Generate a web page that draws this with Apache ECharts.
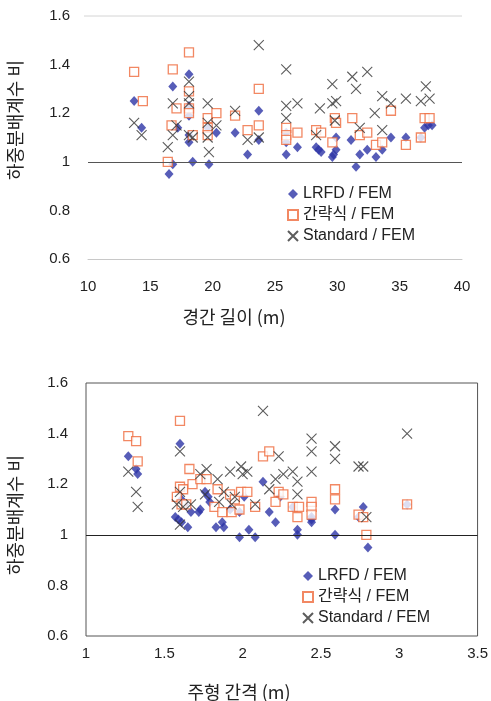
<!DOCTYPE html>
<html>
<head>
<meta charset="utf-8">
<script src="https://cdn.jsdelivr.net/npm/echarts@6/dist/echarts.min.js"></script>
<style>
  html, body { margin: 0; padding: 0; background: #fff; }
  #chart { width: 491px; height: 701px; }
</style>
</head>
<body>
<div id="chart"></div>
<script>
// Span length (m) vs. distribution factor ratio
const spanLrfd = [[13.7,1.25],[14.3,1.14],[16.8,1.31],[16.5,0.95],[16.8,0.99],[17.2,1.14],[18.1,1.36],[18.1,1.23],[18.1,1.19],[18.1,1.11],[18.1,1.08],[18.4,1.00],[19.7,0.99],[19.6,1.14],[20.3,1.12],[21.8,1.12],[22.8,1.03],[23.7,1.21],[23.7,1.09],[25.9,1.03],[25.9,1.12],[25.9,1.08],[26.8,1.06],[28.3,1.06],[28.5,1.05],[28.7,1.04],[29.9,1.10],[29.9,1.05],[29.6,1.02],[29.7,1.03],[31.1,1.09],[31.5,0.98],[31.8,1.03],[32.4,1.05],[33.1,1.02],[33.6,1.05],[34.3,1.10],[35.5,1.10],[36.7,1.10],[37.0,1.14],[37.3,1.15],[37.6,1.15]];
const spanSimple = [[13.7,1.37],[14.4,1.25],[16.8,1.38],[16.4,1.00],[16.7,1.15],[17.1,1.22],[18.1,1.45],[18.1,1.29],[18.1,1.22],[18.1,1.20],[18.4,1.11],[19.6,1.18],[19.6,1.14],[19.6,1.11],[20.3,1.20],[21.8,1.19],[22.8,1.13],[23.7,1.30],[23.7,1.15],[25.9,1.14],[25.9,1.11],[25.9,1.09],[26.8,1.12],[28.3,1.13],[28.7,1.12],[29.6,1.08],[29.8,1.18],[29.9,1.16],[31.2,1.18],[31.8,1.11],[32.4,1.12],[33.1,1.07],[33.6,1.08],[34.3,1.21],[35.5,1.07],[36.7,1.10],[37.0,1.18],[37.4,1.18]];
const spanStandard = [[13.7,1.16],[14.3,1.11],[16.4,1.06],[16.8,1.24],[16.8,1.11],[17.1,1.15],[18.1,1.33],[18.1,1.27],[18.1,1.24],[18.1,1.11],[18.4,1.10],[19.6,1.24],[19.6,1.16],[19.6,1.10],[19.7,1.04],[20.3,1.15],[21.8,1.21],[22.8,1.09],[23.7,1.48],[23.7,1.10],[25.9,1.38],[25.9,1.23],[25.9,1.18],[26.8,1.24],[28.6,1.22],[28.3,1.11],[29.6,1.32],[29.6,1.24],[29.9,1.25],[29.8,1.17],[31.2,1.35],[31.5,1.30],[32.4,1.37],[31.8,1.14],[33.0,1.20],[33.6,1.27],[33.6,1.13],[34.3,1.24],[35.5,1.26],[36.7,1.25],[37.1,1.31],[37.4,1.26]];

// Girder spacing (m) vs. distribution factor ratio
const spacingLrfd = [[1.27,1.31],[1.32,1.26],[1.33,1.24],[1.60,1.36],[1.57,1.07],[1.59,1.06],[1.61,1.05],[1.65,1.03],[1.61,1.14],[1.63,1.12],[1.67,1.09],[1.72,1.09],[1.73,1.10],[1.76,1.17],[1.78,1.15],[1.79,1.13],[1.83,1.03],[1.87,1.05],[1.88,1.03],[1.92,1.10],[1.98,0.99],[2.04,1.02],[2.08,0.99],[1.98,1.09],[2.01,1.15],[2.13,1.21],[2.17,1.09],[2.21,1.05],[2.24,1.15],[2.32,1.11],[2.35,1.02],[2.35,1.00],[2.44,1.05],[2.44,1.06],[2.44,1.07],[2.59,1.10],[2.59,1.00],[2.74,1.07],[2.77,1.11],[2.80,0.95],[3.05,1.12]];
const spacingSimple = [[1.27,1.39],[1.32,1.37],[1.33,1.29],[1.60,1.45],[1.66,1.26],[1.60,1.19],[1.62,1.18],[1.68,1.20],[1.58,1.15],[1.61,1.12],[1.64,1.12],[1.73,1.22],[1.77,1.22],[1.84,1.18],[1.82,1.11],[1.87,1.09],[1.92,1.16],[1.93,1.09],[1.95,1.14],[1.98,1.10],[1.99,1.17],[2.03,1.17],[2.08,1.11],[2.13,1.31],[2.17,1.33],[2.21,1.13],[2.23,1.17],[2.26,1.16],[2.32,1.11],[2.36,1.11],[2.35,1.07],[2.44,1.13],[2.44,1.11],[2.44,1.08],[2.59,1.18],[2.59,1.14],[2.74,1.08],[2.77,1.07],[2.79,1.00],[3.05,1.12]];
const spacingStandard = [[1.27,1.25],[1.32,1.17],[1.33,1.11],[1.60,1.33],[1.60,1.17],[1.58,1.12],[1.62,1.11],[1.67,1.12],[1.60,1.04],[1.73,1.24],[1.77,1.26],[1.76,1.16],[1.84,1.22],[1.88,1.17],[1.85,1.13],[1.92,1.25],[1.95,1.15],[1.93,1.12],[1.99,1.27],[2.00,1.24],[2.03,1.25],[2.08,1.12],[2.13,1.49],[2.17,1.18],[2.21,1.22],[2.23,1.31],[2.26,1.24],[2.32,1.25],[2.35,1.21],[2.35,1.16],[2.44,1.38],[2.44,1.33],[2.44,1.25],[2.59,1.35],[2.59,1.30],[2.74,1.27],[2.77,1.27],[2.79,1.07],[3.05,1.40]];

const seriesNames = ['LRFD / FEM', '간략식 / FEM', 'Standard / FEM'];
const yTitle = '하중분배계수 비';
const spanTitle = '경간 길이 (m)';
const spacingTitle = '주형 간격 (m)';

const LATIN = '"Liberation Sans", Arial, sans-serif';
const MIXED = '"Liberation Sans", "Noto Sans CJK KR", sans-serif';
const KOREAN = '"Noto Sans CJK KR", "Liberation Sans", sans-serif';
const CROSS = 'path://M0,0L10,10M10,0L0,10';

const blue = '#2d35a6';
const orange = '#ef6a3c';
const dark = '#333333';

function styles(kind) {
  if (kind === 0) return { symbol: 'diamond', symbolSize: [9, 10], itemStyle: { color: blue } };
  if (kind === 1) return { symbol: 'rect', symbolSize: 9, itemStyle: { color: '#ffffff', borderColor: orange, borderWidth: 1.3 } };
  return { symbol: CROSS, symbolSize: 10, itemStyle: { color: 'transparent', borderColor: dark, borderWidth: 1.1 } };
}

function scatter(name, kind, idx, data) {
  return Object.assign({
    type: 'scatter', name: name, xAxisIndex: idx, yAxisIndex: idx,
    data: data, z: 3 + (kind === 0 ? 0 : kind === 1 ? 1 : 2),
    emphasis: { disabled: true }
  }, styles(kind));
}

// horizontal reference line at a ratio of 1
const oneLine = (idx, color) => ({
  type: 'scatter', xAxisIndex: idx, yAxisIndex: idx, data: [], silent: true,
  markLine: {
    silent: true, symbol: 'none', label: { show: false },
    lineStyle: { color: color, width: 1.2, type: 'solid' },
    data: [{ yAxis: 1 }]
  }
});

const axisLabel = { fontFamily: LATIN, fontSize: 15, color: '#222' };
const legendText = { fontFamily: MIXED, fontSize: 16, color: '#222' };

const chart = echarts.init(document.getElementById('chart'), null, { renderer: 'canvas' });
chart.setOption({
  animation: false,
  backgroundColor: '#ffffff',
  grid: [
    { left: 88, right: 29, top: 16, height: 243, show: false },
    { left: 86, right: 13, top: 383, height: 253, show: true, borderColor: '#555', borderWidth: 1, backgroundColor: 'transparent' }
  ],
  xAxis: [
    { gridIndex: 0, type: 'value', min: 10, max: 40, interval: 5,
      axisLine: { show: true, lineStyle: { color: '#c8c8c8' } }, axisTick: { show: false },
      splitLine: { show: false }, axisLabel: Object.assign({ margin: 20 }, axisLabel) },
    { gridIndex: 1, type: 'value', min: 1, max: 3.5, interval: 0.5,
      axisLine: { show: false }, axisTick: { show: false },
      splitLine: { show: false }, axisLabel: Object.assign({ margin: 10 }, axisLabel) }
  ],
  yAxis: [
    { gridIndex: 0, type: 'value', min: 0.6, max: 1.6, interval: 0.2,
      axisLine: { show: false }, axisTick: { show: false },
      splitLine: { show: false }, axisLabel: Object.assign({ margin: 18 }, axisLabel) },
    { gridIndex: 1, type: 'value', min: 0.6, max: 1.6, interval: 0.2,
      axisLine: { show: false }, axisTick: { show: false },
      splitLine: { show: false }, axisLabel: Object.assign({ margin: 18 }, axisLabel) }
  ],
  legend: [
    { orient: 'vertical', left: 282, top: 181, itemGap: 5, itemWidth: 10, itemHeight: 10,
      textStyle: legendText, data: seriesNames, selectedMode: false },
    { orient: 'vertical', left: 297, top: 563, itemGap: 5, itemWidth: 10, itemHeight: 10,
      textStyle: legendText, data: seriesNames, selectedMode: false }
  ],
  graphic: [
    { type: 'line', shape: { x1: 84, y1: 16, x2: 462, y2: 16 }, style: { stroke: '#d4d4d4', lineWidth: 1 }, silent: true },
    { type: 'text', x: 234, y: 317, style: { text: spanTitle, font: '18px ' + KOREAN, fill: '#222', align: 'center', verticalAlign: 'middle' } },
    { type: 'text', x: 239, y: 692, style: { text: spacingTitle, font: '18px ' + KOREAN, fill: '#222', align: 'center', verticalAlign: 'middle' } },
    { type: 'text', x: 15, y: 120, rotation: Math.PI / 2, style: { text: yTitle, font: '18px ' + KOREAN, fill: '#222', align: 'center', verticalAlign: 'middle' } },
    { type: 'text', x: 15, y: 515, rotation: Math.PI / 2, style: { text: yTitle, font: '18px ' + KOREAN, fill: '#222', align: 'center', verticalAlign: 'middle' } }
  ],
  series: [
    oneLine(0, '#555'),
    oneLine(1, '#222'),
    scatter(seriesNames[0], 0, 0, spanLrfd),
    scatter(seriesNames[1], 1, 0, spanSimple),
    scatter(seriesNames[2], 2, 0, spanStandard),
    scatter(seriesNames[0], 0, 1, spacingLrfd),
    scatter(seriesNames[1], 1, 1, spacingSimple),
    scatter(seriesNames[2], 2, 1, spacingStandard)
  ]
});
</script>
</body>
</html>
